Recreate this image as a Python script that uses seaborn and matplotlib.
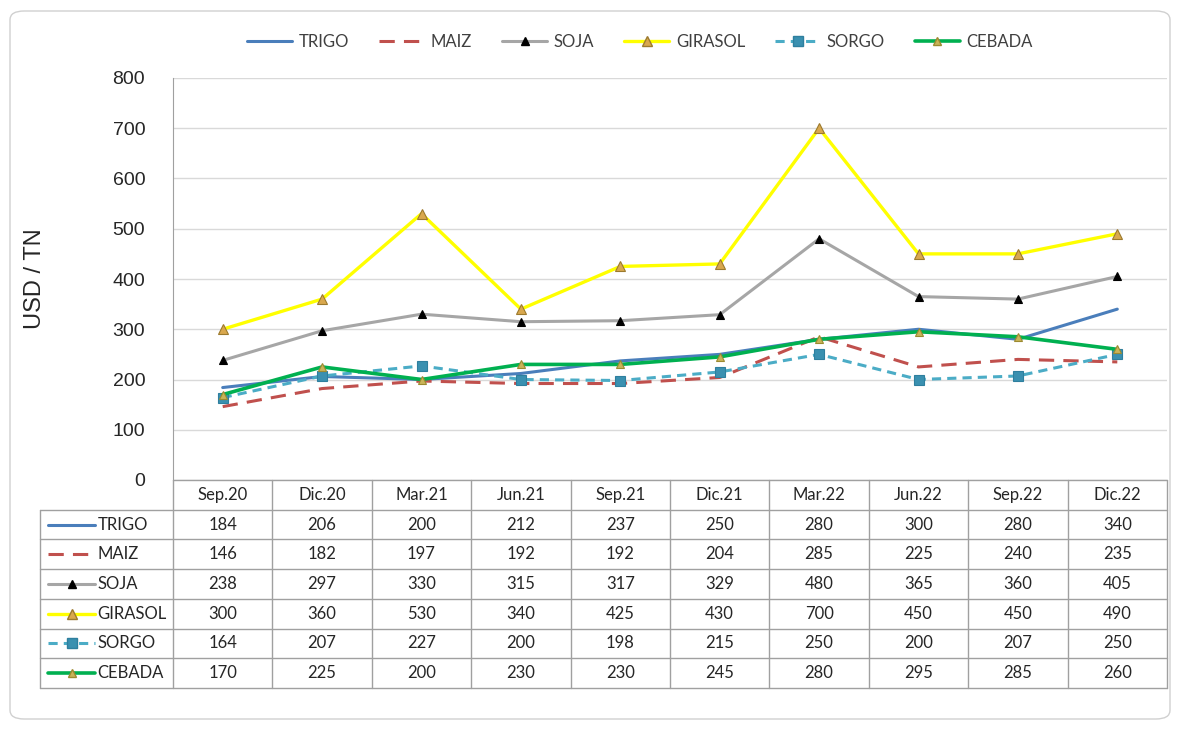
import numpy as np
import pandas as pd
import matplotlib.pyplot as plt
import seaborn as sns
from matplotlib.lines import Line2D
from matplotlib.patches import FancyBboxPatch

# Data
periodos = ["Sep.20", "Dic.20", "Mar.21", "Jun.21", "Sep.21", "Dic.21",
            "Mar.22", "Jun.22", "Sep.22", "Dic.22"]
series = ["TRIGO", "MAIZ", "SOJA", "GIRASOL", "SORGO", "CEBADA"]
trigo = [184, 206, 200, 212, 237, 250, 280, 300, 280, 340]
maiz = [146, 182, 197, 192, 192, 204, 285, 225, 240, 235]
soja = [238, 297, 330, 315, 317, 329, 480, 365, 360, 405]
girasol = [300, 360, 530, 340, 425, 430, 700, 450, 450, 490]
sorgo = [164, 207, 227, 200, 198, 215, 250, 200, 207, 250]
cebada = [170, 225, 200, 230, 230, 245, 280, 295, 285, 260]
valores = [trigo, maiz, soja, girasol, sorgo, cebada]

df = pd.DataFrame({
    "serie": np.repeat(series, len(periodos)),
    "idx": np.tile(np.arange(len(periodos)), len(series)),
    "valor": np.concatenate(valores),
})

# styles per series
estilos = {
    "TRIGO": dict(color="#4A7EBB", linestyle="-", lw=2.2, marker=None),
    "MAIZ": dict(color="#C0504D", linestyle=(0, (5, 3)), lw=2.2, marker=None),
    "SOJA": dict(color="#A6A6A6", linestyle="-", lw=2.2, marker="^",
                 mfc="black", mec="black", ms=6),
    "GIRASOL": dict(color="#FFFF00", linestyle="-", lw=2.4, marker="^",
                    mfc="#D9A84E", mec="#9C7A2E", ms=7),
    "SORGO": dict(color="#4BACC6", linestyle=(0, (3, 2)), lw=2.2, marker="s",
                  mfc="#3A90B0", mec="#2E7F9E", ms=7),
    "CEBADA": dict(color="#00B050", linestyle="-", lw=2.6, marker="^",
                   mfc="#C9B458", mec="#9C8A30", ms=6),
}

sns.set_style("white")
plt.rcParams["font.family"] = ["Lato", "DejaVu Sans"]

fig = plt.figure(figsize=(11.78, 7.29), dpi=100)

# outer rounded frame
frame = FancyBboxPatch((10 / 1178, 10 / 729), 1160 / 1178, 708 / 729,
                       boxstyle="round,pad=0,rounding_size=0.012",
                       transform=fig.transFigure, fill=False,
                       edgecolor="#D0D0D0", lw=1.0)
fig.patches.append(frame)

# ==========================
# Chart
# ==========================
ax = fig.add_axes([173 / 1178, 1 - 480 / 729, 994 / 1178, 402 / 729])
for nombre in series:
    st = estilos[nombre]
    sub = df[df["serie"] == nombre]
    kw = dict(color=st["color"], linestyle=st["linestyle"], linewidth=st["lw"])
    if st["marker"]:
        kw.update(marker=st["marker"], markerfacecolor=st["mfc"],
                  markeredgecolor=st["mec"], markersize=st["ms"],
                  markeredgewidth=0.8)
    sns.lineplot(data=sub, x="idx", y="valor", ax=ax, label=nombre, **kw)

ax.set_xlim(-0.5, len(periodos) - 0.5)
ax.set_ylim(0, 800)
ax.set_yticks(range(0, 801, 100))
ax.set_yticklabels([str(v) for v in range(0, 801, 100)],
                   fontsize=14, family=["Liberation Sans", "DejaVu Sans"])
ax.tick_params(axis="y", length=0, pad=20)
ax.set_xticks([])
ax.set_xlabel("")
ax.set_ylabel("USD / TN", fontsize=17, family=["Liberation Sans", "DejaVu Sans"],
              labelpad=48)
ax.grid(axis="y", color="#D9D9D9", lw=1)
ax.set_axisbelow(True)
for s in ["top", "right", "bottom"]:
    ax.spines[s].set_visible(False)
ax.spines["left"].set_color("#A0A0A0")
ax.legend_.remove()

handles = []
for nombre in series:
    st = estilos[nombre]
    h = Line2D([], [], color=st["color"], linestyle=st["linestyle"], lw=st["lw"])
    if st["marker"]:
        h.set_marker(st["marker"])
        h.set_markerfacecolor(st["mfc"])
        h.set_markeredgecolor(st["mec"])
        h.set_markersize(st["ms"])
    handles.append(h)
fig.legend(handles, series, loc="center", bbox_to_anchor=(640 / 1178, 1 - 42 / 729),
           ncol=6, frameon=False, fontsize=12, handlelength=2.7,
           columnspacing=1.8, handletextpad=0.4, labelcolor="#404040")

# ==========================
# Table
# ==========================
tx = fig.add_axes([40 / 1178, 1 - 688 / 729, 1127 / 1178, 208 / 729])
x0 = -0.5 - 133 / 99.4
tx.set_xlim(x0, len(periodos) - 0.5)
tx.set_ylim(len(series) + 1, 0)
tx.axis("off")
gc = "#A0A0A0"
nrow = len(series) + 1
# borders
tx.plot([-0.5, len(periodos) - 0.5], [0, 0], color=gc, lw=1, clip_on=False)
for r in range(1, nrow + 1):
    tx.plot([x0, len(periodos) - 0.5], [r, r], color=gc, lw=1, clip_on=False)
tx.plot([x0, x0], [1, nrow], color=gc, lw=1, clip_on=False)
for c in range(len(periodos) + 1):
    tx.plot([c - 0.5, c - 0.5], [0, nrow], color=gc, lw=1, clip_on=False)

for c, p in enumerate(periodos):
    tx.text(c, 0.5, p, ha="center", va="center", fontsize=12, color="#262626")

for r, nombre in enumerate(series):
    y = r + 1.5
    st = estilos[nombre]
    tx.plot([x0 + 0.08, -1.285], [y, y], color=st["color"],
            linestyle=st["linestyle"], lw=st["lw"], clip_on=False)
    if st["marker"]:
        tx.plot([-1.52], [y], linestyle="none", marker=st["marker"],
                markerfacecolor=st["mfc"], markeredgecolor=st["mec"],
                markersize=st["ms"], clip_on=False)
    tx.text(-1.26, y, nombre, ha="left", va="center", fontsize=12, color="#262626")
    for c, v in enumerate(valores[r]):
        tx.text(c, y, str(v), ha="center", va="center", fontsize=12, color="#262626")

plt.savefig("out.png", dpi=100)
plt.close()
